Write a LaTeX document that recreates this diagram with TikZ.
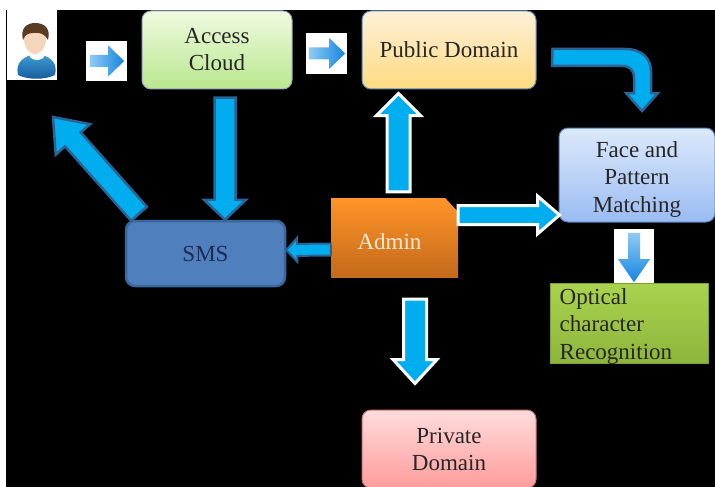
\documentclass[tikz,border=0pt]{standalone}
\usepackage{fontspec}
\setmainfont{Liberation Serif}
\usepackage{xcolor}
\usetikzlibrary{calc}

\definecolor{arrowblue}{HTML}{00AEEF}
\definecolor{arrowdark}{HTML}{2A6496}
\definecolor{inktext}{HTML}{262626}
\definecolor{fadeblue}{HTML}{8FCBF3}
\definecolor{deepblue}{HTML}{1585E0}
\definecolor{accessline}{HTML}{9AA5C0}
\definecolor{accesstop}{HTML}{EFFADF}
\definecolor{accessbot}{HTML}{B9E78F}
\definecolor{publicline}{HTML}{5F8DB8}
\definecolor{publictop}{HTML}{FDF0D8}
\definecolor{publicbot}{HTML}{FFDB80}
\definecolor{faceline}{HTML}{4F81BD}
\definecolor{facetop}{HTML}{DDE9FB}
\definecolor{facebot}{HTML}{9ABCF2}
\definecolor{smsfill}{HTML}{4F7FBC}
\definecolor{smsline}{HTML}{38689E}
\definecolor{smstext}{HTML}{1C2E55}
\definecolor{privateline}{HTML}{CC7777}
\definecolor{privatetop}{HTML}{FFDCDC}
\definecolor{privatebot}{HTML}{FF9C9C}
\definecolor{admintop}{HTML}{FF9428}
\definecolor{adminbot}{HTML}{C46A1C}
\definecolor{admintext}{HTML}{FDEBD3}
\definecolor{ocrline}{HTML}{7F9E34}
\definecolor{ocrtop}{HTML}{A9D34F}
\definecolor{ocrbot}{HTML}{8EB53C}
\definecolor{bodytop}{HTML}{3F9BD3}
\definecolor{bodybot}{HTML}{135A9B}
\definecolor{skin}{HTML}{F5D5BC}
\definecolor{hair}{HTML}{5A3A20}

\tikzset{
    box/.style={rounded corners=9pt, minimum width=#1, font=\fontsize{23}{27}\selectfont,
        align=center, text=inktext, line width=1pt, inner sep=0pt},
    boxtext/.style={font=\fontsize{23}{27.5}\selectfont, text=inktext, inner sep=0pt},
    whitebox/.style={fill=white, inner sep=0pt},
    blockshape/.style n args={3}{to path={
        ($(\tikztostart)!#1!90:(\tikztotarget)$)
        -- ($($(\tikztotarget)!#3!(\tikztostart)$)!#1!90:(\tikztotarget)$)
        -- ($($(\tikztotarget)!#3!(\tikztostart)$)!#2!90:(\tikztotarget)$)
        -- (\tikztotarget)
        -- ($($(\tikztotarget)!#3!(\tikztostart)$)!#2!-90:(\tikztotarget)$)
        -- ($($(\tikztotarget)!#3!(\tikztostart)$)!#1!-90:(\tikztotarget)$)
        -- ($(\tikztostart)!#1!-90:(\tikztotarget)$) -- cycle}},
    darkarrow/.style={fill=arrowblue, draw=arrowdark, line width=2.5pt},
    whitearrow/.style={fill=arrowblue, draw=white, line width=3pt},
}

\begin{document}
\begin{tikzpicture}[x=1pt, y=-1pt]
% Background
\fill[white] (0,0) rectangle (715,487);
\fill[black] (6,10) rectangle (715,487);
\useasboundingbox (0,0) rectangle (715,487);

% White picture boxes
\node[whitebox, minimum width=50pt, minimum height=70pt] (user) at (32,45) {};
\node[whitebox, minimum width=41pt, minimum height=40pt] (nextone) at (106.5,61) {};
\node[whitebox, minimum width=41pt, minimum height=41pt] (nexttwo) at (326.5,53.5) {};
\node[whitebox, minimum width=40pt, minimum height=54pt] (nextthree) at (634,256) {};

% Blocks
\node[box=150pt, minimum height=78pt, draw=accessline, top color=accesstop, bottom color=accessbot] (access) at (217,50) {Access\\Cloud};
\node[box=174pt, minimum height=78pt, draw=publicline, top color=publictop, bottom color=publicbot] (public) at (449,50) {Public Domain};
\node[box=156pt, minimum height=94pt, draw=faceline, top color=facetop, bottom color=facebot] (face) at (637,175) {};
\node[boxtext, align=center] (facetext) at ([yshift=-4.5pt]face.center) {Face and\\Pattern\\Matching};
\node[box=159pt, minimum height=65pt, fill=smsfill, draw=smsline, line width=2.5pt, text=smstext] (sms) at (205.5,253.5) {SMS};
\node[box=174pt, minimum height=78pt, draw=privateline, top color=privatetop, bottom color=privatebot] (private) at (449,449) {Private\\Domain};
\node[minimum width=127pt, minimum height=79pt, inner sep=0pt, top color=admintop, bottom color=adminbot,
    label={[text=admintext, font=\fontsize{23}{27}\selectfont, xshift=-5pt, yshift=-4pt]center:Admin}] (admin) at (394.5,237.5) {};
\fill[black] ([xshift=-13pt]admin.north east) -- ([xshift=.5pt,yshift=.5pt]admin.north east) -- ([yshift=-14pt]admin.north east) -- cycle;
\node[minimum width=158pt, minimum height=80pt, inner sep=0pt, draw=ocrline, line width=1pt,
    top color=ocrtop, bottom color=ocrbot] (ocr) at (629,323) {};
\node[boxtext, align=left, anchor=west] (ocrtext) at ([xshift=10pt,yshift=-3pt]ocr.west) {Optical\\character\\Recognition};

% Person
\shade[top color=bodytop, bottom color=bodybot] (18,75) .. controls (15,62) and (24,58) .. (30,55) -- (43,55) .. controls (50,58) and (58,62) .. (55,75) .. controls (45,80) and (28,80) .. (18,75) -- cycle;
\fill[white] (29,55) .. controls (32,62) and (42,62) .. (45,55) -- cycle;
\fill[skin] (35,39) ellipse (11pt and 15pt);
\fill[hair] (23,40) .. controls (20,28) and (27,23) .. (35,23) .. controls (44,23) and (51,28) .. (48,40) .. controls (45,34) and (40,32) .. (33,33) .. controls (28,33) and (25,35) .. (23,40) -- cycle;

% Small arrows
\coordinate (usertip) at (53,117);
\shade[left color=fadeblue, right color=deepblue] ([xshift=4pt]nextone.west) to[blockshape={6pt}{15.5pt}{16pt}] ([xshift=-3pt]nextone.east);
\shade[left color=fadeblue, right color=deepblue] ([xshift=3pt]nexttwo.west) to[blockshape={6pt}{15.5pt}{16pt}] ([xshift=-2pt]nexttwo.east);
\shade[top color=fadeblue, bottom color=deepblue] ([yshift=-4pt]nextthree.north) to[blockshape={6pt}{16pt}{23pt}] ([yshift=1pt]nextthree.south);

% Block arrows
\draw[darkarrow] ([xshift=8pt,yshift=-8pt]access.south) to[blockshape={10.5pt}{21pt}{20pt}] ([xshift=19.5pt]sms.north);
\draw[darkarrow] ([xshift=-66.5pt,yshift=6pt]sms.north) to[blockshape={10.5pt}{23pt}{30pt}] (usertip);
\draw[darkarrow, line width=2pt] ([yshift=-12pt]admin.west) to[blockshape={6pt}{12pt}{11pt}] ([yshift=3.5pt]sms.east);
\draw[whitearrow] ([xshift=4pt,yshift=6pt]admin.north) to[blockshape={11.5pt}{22pt}{22pt}] ([xshift=-50.5pt,yshift=-4pt]public.south);
\draw[whitearrow] ([yshift=22.5pt]admin.east) to[blockshape={9.5pt}{19pt}{22pt}] ([xshift=1pt,yshift=-40pt]face.west);
\draw[whitearrow] ([xshift=20.5pt,yshift=-22pt]admin.south) to[blockshape={11.5pt}{22pt}{24pt}] ([xshift=-34pt,yshift=26pt]private.north);

% Bent arrow
\draw[darkarrow] ([xshift=16pt,yshift=1pt]public.east) -- (625,49) .. controls (642,49) and (651,58) .. (651,72)
    -- (651,93) -- (658,93) -- (642,111) -- (626,93) -- (634,93) -- (634,78)
    .. controls (634,70) and (630,66) .. (622,66) -- (552,66) -- cycle;
\end{tikzpicture}
\end{document}
